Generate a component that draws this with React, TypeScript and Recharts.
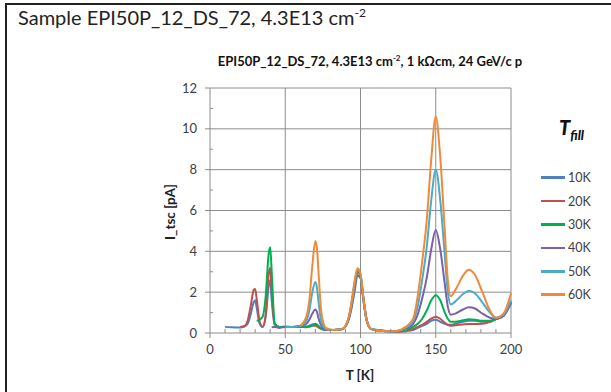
import { LineChart, Line, XAxis, YAxis, CartesianGrid, Legend } from 'recharts';

// temperature grid [K]
const temps = [10, 14, 17, 20, 23, 25, 27, 29, 30, 31, 33, 35, 37, 39, 40, 41, 43, 46, 50, 55, 60, 64, 66, 68, 70, 71, 72, 74, 77, 82, 88, 92, 94, 96, 98, 100, 102, 104, 107, 112, 118, 124, 130, 135, 138, 141, 144, 147, 150, 153, 156, 158, 160, 163, 168, 172, 176, 181, 186, 190, 195, 200];

// I_tsc [pA] per filling temperature (null = not measured yet)
const s10K = [0.3, 0.28, 0.27, 0.27, 0.32, 0.45, 0.9, 1.5, 1.6, 1.25, 0.45, 0.3, 0.8, 2.3, 2.6, 1.6, 0.4, 0.3, 0.32, 0.3, 0.33, 0.32, 0.36, 0.42, 0.45, 0.42, 0.35, 0.22, 0.15, 0.15, 0.2, 0.6, 1.2, 2.0, 2.8, 2.7, 1.7, 0.7, 0.2, 0.15, 0.1, 0.05, 0.1, 0.15, 0.25, 0.35, 0.45, 0.6, 0.65, 0.55, 0.45, 0.4, 0.4, 0.45, 0.55, 0.6, 0.6, 0.55, 0.55, 0.68, 0.85, 1.5];
const s20K = [null, null, null, 0.3, 0.35, 0.6, 1.3, 2.1, 2.15, 1.7, 0.55, 0.3, 0.9, 2.9, 3.2, 2.0, 0.45, 0.3, 0.3, 0.3, 0.3, 0.28, 0.3, 0.35, 0.36, 0.33, 0.28, 0.2, 0.15, 0.15, 0.2, 0.65, 1.3, 2.2, 3.0, 2.75, 1.6, 0.65, 0.2, 0.12, 0.08, 0.05, 0.1, 0.2, 0.3, 0.4, 0.55, 0.7, 0.8, 0.7, 0.5, 0.4, 0.35, 0.38, 0.42, 0.44, 0.44, 0.45, 0.55, 0.68, 0.85, 1.45];
const s30K = [null, null, null, null, null, null, null, null, null, 0.6, 0.65, 0.8, 1.8, 3.9, 4.2, 3.0, 0.45, 0.3, 0.3, 0.3, 0.32, 0.3, 0.33, 0.38, 0.42, 0.4, 0.33, 0.22, 0.15, 0.15, 0.2, 0.7, 1.35, 2.3, 3.0, 2.75, 1.6, 0.65, 0.2, 0.12, 0.08, 0.08, 0.15, 0.3, 0.45, 0.7, 1.1, 1.6, 1.85, 1.6, 1.0, 0.7, 0.55, 0.55, 0.62, 0.67, 0.65, 0.6, 0.6, 0.68, 0.85, 1.5];
const s40K = [null, null, null, null, null, null, null, null, null, null, null, null, null, null, null, 0.28, 0.3, 0.25, 0.3, 0.3, 0.35, 0.45, 0.65, 0.95, 1.15, 1.05, 0.75, 0.35, 0.15, 0.15, 0.2, 0.7, 1.4, 2.35, 3.05, 2.8, 1.6, 0.65, 0.2, 0.12, 0.08, 0.1, 0.2, 0.45, 0.9, 1.7, 2.7, 4.1, 5.05, 4.1, 2.4, 1.3, 0.9, 0.95, 1.15, 1.26, 1.2, 0.95, 0.75, 0.7, 0.85, 1.5];
const s50K = [null, null, null, null, null, null, null, null, null, null, null, null, null, null, null, null, null, null, 0.3, 0.3, 0.35, 0.6, 1.1, 2.0, 2.5, 2.25, 1.6, 0.55, 0.2, 0.15, 0.2, 0.7, 1.4, 2.4, 3.1, 2.85, 1.65, 0.65, 0.2, 0.12, 0.08, 0.1, 0.25, 0.6, 1.3, 2.6, 4.2, 6.5, 8.0, 6.5, 3.8, 2.0, 1.4, 1.55, 1.9, 2.07, 1.95, 1.5, 1.0, 0.75, 0.9, 1.6];
const s60K = [null, null, null, null, null, null, null, null, null, null, null, null, null, null, null, null, null, null, null, null, 0.35, 0.8, 1.6, 3.3, 4.5, 4.2, 3.1, 1.0, 0.25, 0.15, 0.2, 0.72, 1.5, 2.5, 3.17, 2.9, 1.7, 0.65, 0.2, 0.12, 0.08, 0.1, 0.3, 0.7, 1.8, 3.5, 5.5, 8.5, 10.6, 8.6, 5.0, 2.6, 1.8, 2.1, 2.8, 3.1, 2.85, 2.0, 1.1, 0.75, 0.95, 1.95];

const seriesNames = ['10K', '20K', '30K', '40K', '50K', '60K'];
const seriesValues = [s10K, s20K, s30K, s40K, s50K, s60K];
const seriesColors = ['#4F81BD', '#C0504D', '#00B050', '#7E60A6', '#4BACC6', '#F08A3A'];

const xTicks = [0, 10, 20, 30, 40, 50, 60, 70, 80, 90, 100, 110, 120, 130, 140, 150, 160, 170, 180, 190, 200];
const xLabelTicks = [0, 50, 100, 150, 200];
const yTicks = [0, 1, 2, 3, 4, 5, 6, 7, 8, 9, 10, 11, 12];
const yLabelTicks = [0, 2, 4, 6, 8, 10, 12];

const data = temps.map((t, i) => {
  const row: any = { T: t };
  seriesNames.forEach((n, k) => { row[n] = seriesValues[k][i]; });
  return row;
});

const FONT = 'Lato, "Open Sans", sans-serif';
const AXIS_COLOR = '#8c8c8c';
const TICK_SIZE = 5;
const X_MARGIN = 7;
const Y_MARGIN = 8;

const XTick = (props: any) => {
  const { x, y, payload } = props;
  const axisY = y - TICK_SIZE - X_MARGIN;
  const major = xLabelTicks.includes(payload.value);
  return (
    <g>
      {major
        ? <line x1={x} x2={x} y1={axisY} y2={axisY + TICK_SIZE} stroke={AXIS_COLOR} />
        : <line x1={x} x2={x} y1={axisY} y2={axisY - 4} stroke={AXIS_COLOR} />}
      {major && (
        <text x={x} y={y} dy="0.71em" textAnchor="middle" fontSize={13} fill="#404040" fontFamily={FONT}>
          {payload.value}
        </text>
      )}
    </g>
  );
};

const YTick = (props: any) => {
  const { x, y, payload } = props;
  const axisX = x + TICK_SIZE + Y_MARGIN;
  const major = yLabelTicks.includes(payload.value);
  return (
    <g>
      {major
        ? <line x1={axisX - TICK_SIZE} x2={axisX} y1={y} y2={y} stroke={AXIS_COLOR} />
        : <line x1={axisX} x2={axisX + 3} y1={y} y2={y} stroke={AXIS_COLOR} />}
      {major && (
        <text x={x} y={y} dy="0.35em" textAnchor="end" fontSize={13} fill="#404040" fontFamily={FONT}>
          {payload.value}
        </text>
      )}
    </g>
  );
};

const renderLegend = (props: any) => {
  const { payload } = props;
  return (
    <div>
      {(payload || []).map((p: any) => (
        <div key={p.value} style={{ display: 'flex', alignItems: 'center', height: 23.4 }}>
          <span style={{ display: 'inline-block', width: 24, height: 2.5, background: p.color, marginRight: 3 }} />
          <span style={{ fontSize: 12.5, color: '#404040', fontFamily: FONT }}>{p.value}</span>
        </div>
      ))}
    </div>
  );
};

export default function App() {
  return (
    <div style={{ position: 'absolute', left: 0, top: 0, width: 611, height: 392, background: '#fff', overflow: 'hidden', fontFamily: FONT }}>
      {/* slide frame */}
      <div style={{ position: 'absolute', left: 5, top: 3, width: 620, height: 400, borderTop: '2px solid #222', borderLeft: '2px solid #222' }} />

      <div style={{ position: 'absolute', left: 18, top: 5, fontSize: 20, color: '#222', whiteSpace: 'nowrap' }}>
        Sample EPI50P_12_DS_72, 4.3E13 cm<sup style={{ fontSize: 12 }}>-2</sup>
      </div>

      <div style={{ position: 'absolute', left: 0, width: 740, top: 53, textAlign: 'center', fontSize: 13, fontWeight: 700, color: '#111', whiteSpace: 'nowrap' }}>
        EPI50P_12_DS_72, 4.3E13 cm<sup style={{ fontSize: 8 }}>-2</sup>, 1 kΩcm, 24 GeV/c p
      </div>

      <div style={{ position: 'absolute', left: 559, top: 115, fontSize: 20, fontWeight: 900, fontStyle: 'italic', color: '#111' }}>
        T<sub style={{ fontSize: 13 }}>fill</sub>
      </div>

      <div style={{ position: 'absolute', left: 170, top: 212, transform: 'translate(-50%, -50%) rotate(-90deg)', fontSize: 13.5, fontWeight: 700, color: '#222', whiteSpace: 'nowrap' }}>
        I_tsc [pA]
      </div>

      <div style={{ position: 'absolute', left: 360, top: 375, transform: 'translate(-50%, -50%)', fontSize: 13.5, fontWeight: 700, color: '#222', whiteSpace: 'nowrap' }}>
        T [K]
      </div>

      <div style={{ position: 'absolute', left: 0, top: 0 }}>
        <LineChart width={611} height={392} data={data} margin={{ top: 88, right: 100, bottom: 29, left: 170 }}>
          <CartesianGrid
            stroke={AXIS_COLOR}
            horizontalValues={[2, 4, 6, 8, 10, 12]}
            verticalValues={[50, 100, 150, 200]}
          />
          <XAxis
            dataKey="T"
            type="number"
            domain={[0, 200]}
            ticks={xTicks}
            interval={0}
            height={30}
            tickSize={TICK_SIZE}
            tickMargin={X_MARGIN}
            tickLine={false}
            stroke={AXIS_COLOR}
            tick={<XTick />}
          />
          <YAxis
            type="number"
            domain={[0, 12]}
            ticks={yTicks}
            interval={0}
            width={40}
            tickSize={TICK_SIZE}
            tickMargin={Y_MARGIN}
            tickLine={false}
            stroke={AXIS_COLOR}
            tick={<YTick />}
          />
          <Legend
            layout="vertical"
            align="center"
            verticalAlign="middle"
            content={renderLegend}
            wrapperStyle={{ position: 'absolute', left: 541, top: 166, width: 65 }}
          />
          {seriesNames.map((n, k) => (
            <Line
              key={n}
              type="monotone"
              dataKey={n}
              name={n}
              stroke={seriesColors[k]}
              strokeWidth={2}
              dot={false}
              isAnimationActive={false}
            />
          ))}
        </LineChart>
      </div>
    </div>
  );
}
